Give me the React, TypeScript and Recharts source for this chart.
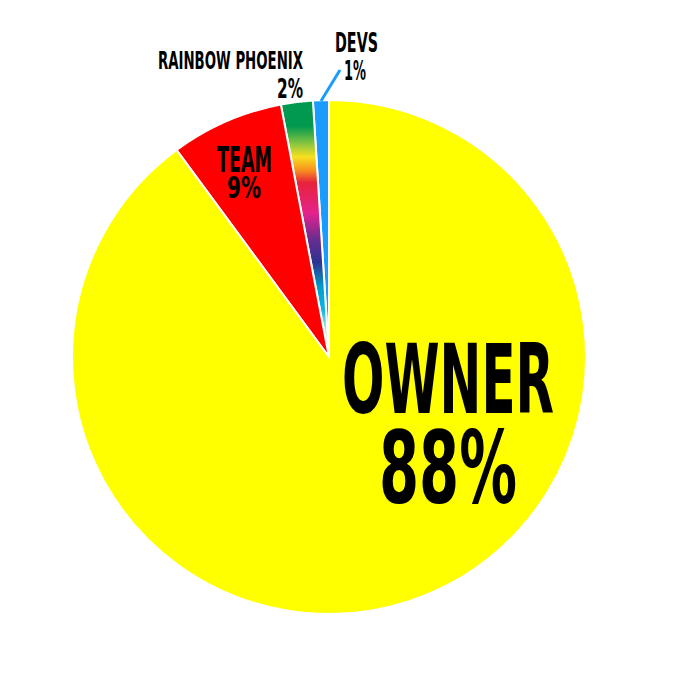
import { PieChart, Pie, Cell } from "recharts";

// slices in drawing order, counter-clockwise from 12 o'clock
const names = ["DEVS", "RAINBOW PHOENIX", "TEAM", "OWNER"];
const values = [1, 2, 7.1, 89.9];
const percentLabels = ["1%", "2%", "9%", "88%"];
const colors = ["#1a9cff", "url(#rainbow)", "#ff0000", "#ffff00"];

const rainbowStops = [
  { offset: 0, color: "#00994f" },
  { offset: 0.1, color: "#00994f" },
  { offset: 0.17, color: "#8cc63f" },
  { offset: 0.22, color: "#f7e11e" },
  { offset: 0.27, color: "#f7931e" },
  { offset: 0.32, color: "#e8233a" },
  { offset: 0.44, color: "#e4228c" },
  { offset: 0.54, color: "#6b2d8f" },
  { offset: 0.63, color: "#2e3192" },
  { offset: 0.73, color: "#00a0c6" },
  { offset: 0.82, color: "#13b5ea" },
  { offset: 0.9, color: "#c8f0c8" },
  { offset: 1, color: "#e8ffe8" },
];

const data = names.map((n, i) => ({ name: n, value: values[i] }));

const font = "'Liberation Sans Narrow', 'DejaVu Sans Condensed', 'Roboto Condensed', sans-serif";

type T = { x: number; y: number; size: number; w: number; text: string };

function Label({ x, y, size, w, text }: T) {
  return (
    <text
      x={x}
      y={y}
      fontFamily={font}
      fontWeight={700}
      fontSize={size}
      fill="#000"
      textLength={w}
      lengthAdjust="spacingAndGlyphs"
    >
      {text}
    </text>
  );
}

export default function App() {
  const labels: T[] = [
    { x: 342, y: 413, size: 97, w: 212, text: names[3] },
    { x: 379, y: 503, size: 100, w: 138, text: percentLabels[3] },
    { x: 217, y: 172, size: 35, w: 55, text: names[2] },
    { x: 227, y: 198, size: 30, w: 34, text: percentLabels[2] },
    { x: 158, y: 69, size: 24, w: 145, text: names[1] },
    { x: 277, y: 98, size: 26, w: 26, text: percentLabels[1] },
    { x: 335, y: 52, size: 26, w: 43, text: names[0] },
    { x: 344, y: 80, size: 26, w: 22, text: percentLabels[0] },
  ];

  return (
    <div style={{ position: "absolute", left: 0, top: 0, width: 686, height: 682, background: "#fff" }}>
      <PieChart width={686} height={682} margin={{ top: 0, right: 0, bottom: 0, left: 0 }}>
        <defs>
          <linearGradient id="rainbow" x1="0" y1="0" x2="0" y2="1">
            {rainbowStops.map((s, i) => (
              <stop key={i} offset={s.offset} stopColor={s.color} />
            ))}
          </linearGradient>
        </defs>
        <Pie
          data={data}
          dataKey="value"
          nameKey="name"
          cx={329}
          cy={357}
          outerRadius={257}
          innerRadius={0}
          startAngle={90}
          endAngle={450}
          stroke="#fff"
          strokeWidth={2}
          isAnimationActive={false}
          labelLine={false}
        >
          {data.map((d, i) => (
            <Cell key={d.name} fill={colors[i]} />
          ))}
        </Pie>
      </PieChart>
      <svg
        width={686}
        height={682}
        style={{ position: "absolute", left: 0, top: 0, pointerEvents: "none" }}
      >
        <line x1={340} y1={70} x2={321} y2={101} stroke="#1a9cff" strokeWidth={3} />
        {labels.map((l, i) => (
          <Label key={i} {...l} />
        ))}
      </svg>
    </div>
  );
}
